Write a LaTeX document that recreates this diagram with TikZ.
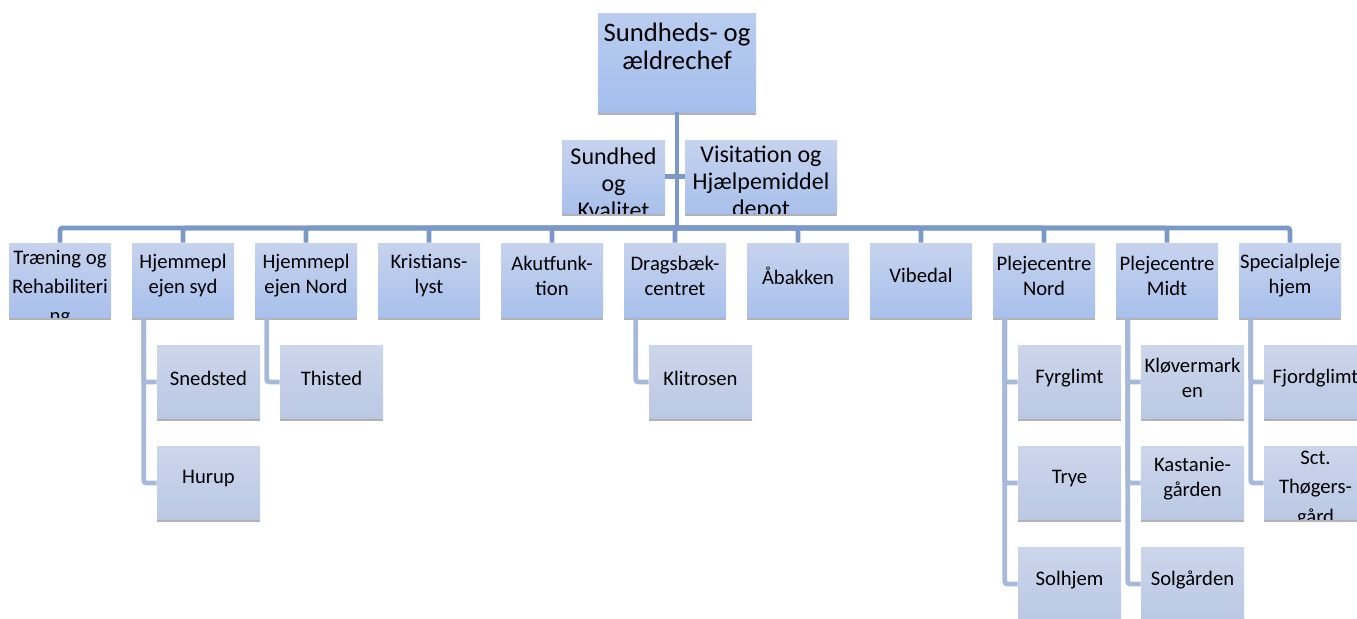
\documentclass[tikz,border=0pt]{standalone}
\usepackage{fontspec}
\setmainfont{Carlito}
\usetikzlibrary{shadows}

\definecolor{trunkblue}{RGB}{122,152,200}
\definecolor{branchblue}{RGB}{166,185,219}
\definecolor{headtop}{RGB}{186,205,240}
\definecolor{headbot}{RGB}{164,190,236}
\definecolor{lvltop}{RGB}{198,211,238}
\definecolor{lvlbot}{RGB}{168,192,236}
\definecolor{kidtop}{RGB}{204,214,235}
\definecolor{kidbot}{RGB}{186,200,228}

\tikzset{
    boxbase/.style={rectangle, inner sep=0pt,
        drop shadow={shadow xshift=0pt, shadow yshift=-2pt, opacity=0.3, fill=black}},
    headbox/.style={boxbase, minimum width=118.5pt, minimum height=74.25pt,
        top color=headtop, bottom color=headbot},
    headboxtxt/.style={inner sep=0pt, align=center, font=\fontsize{20}{20.5}\selectfont, yshift=12pt},
    asstbox/.style={boxbase, minimum height=54.75pt,
        top color=lvltop, bottom color=lvlbot},
    asstboxtxt/.style={inner sep=0pt, align=center, font=\fontsize{18}{20.5}\selectfont, yshift=-5pt},
    asstnarrow/.style={asstbox, minimum width=77.25pt},
    asstnarrowtxt/.style={asstboxtxt},
    asstwide/.style={asstbox, minimum width=114pt},
    asstwidetxt/.style={asstboxtxt},
    lvlbox/.style={boxbase, minimum width=76.5pt, minimum height=55.5pt,
        top color=lvltop, bottom color=lvlbot},
    lvlboxtxt/.style={inner sep=0pt, align=center, font=\fontsize{15.5}{18.75}\selectfont, yshift=3.4pt},
    kidbox/.style={boxbase, minimum width=77.25pt, minimum height=54.75pt,
        top color=kidtop, bottom color=kidbot},
    kidboxtxt/.style={inner sep=0pt, align=center, font=\fontsize{15.5}{18.75}\selectfont, yshift=3pt},
    overflow/.style={font=\fontsize{15.5}{22}\selectfont},
    trunk/.style={draw=trunkblue, line width=3.6pt, rounded corners=2pt},
    branch/.style={draw=branchblue, line width=3.6pt, rounded corners=2pt}
}

% box with its text clipped to the box
\newcommand{\orgnode}[5][]{%
    \node[#2] (#3) at (#4) {};
    \begin{scope}
        \clip (#3.south west) rectangle (#3.north east);
        \node[#2txt, #1] (#3-t) at (#3.center) {#5};
    \end{scope}%
}

\begin{document}
\begin{tikzpicture}[x=0.75pt, y=-0.75pt]
    \useasboundingbox (0,0) rectangle (1357,618);
    \clip (0,0) rectangle (1357,618);

    % top and staff
    \orgnode{headbox}{chef}{677,62.5}{Sundheds- og\\ældrechef}
    \orgnode{asstnarrow}{sundk}{613.5,176.5}{Sundhed\\og\\Kvalitet}
    \orgnode{asstwide}{visit}{761,176.5}{Visitation og\\Hjælpemiddel\\depot}
    \coordinate (hub) at (677,228);

    % first level
    \orgnode[overflow, yshift=-9.5pt]{lvlbox}{trn}{60,280}{Træning og\\Rehabiliteri\\ng}
    \orgnode{lvlbox}{hsyd}{183,280}{Hjemmepl\\ejen syd}
    \orgnode{lvlbox}{hnord}{306,280}{Hjemmepl\\ejen Nord}
    \orgnode{lvlbox}{krist}{429,280}{Kristians-\\lyst}
    \orgnode{lvlbox}{akut}{552,280}{Akutfunk-\\tion}
    \orgnode{lvlbox}{drag}{675,280}{Dragsbæk-\\centret}
    \orgnode{lvlbox}{aab}{798,280}{Åbakken}
    \orgnode{lvlbox}{vib}{921,280}{Vibedal}
    \orgnode{lvlbox}{pnord}{1044,280}{Plejecentre\\Nord}
    \orgnode{lvlbox}{pmidt}{1167,280}{Plejecentre\\Midt}
    \orgnode{lvlbox}{spec}{1290,280}{Specialpleje\\hjem}

    % second level
    \orgnode{kidbox}{sned}{208.5,382}{Snedsted}
    \orgnode{kidbox}{hurup}{208.5,483}{Hurup}
    \orgnode{kidbox}{thist}{331.5,382}{Thisted}
    \orgnode{kidbox}{klit}{700.5,382}{Klitrosen}
    \orgnode{kidbox}{fyr}{1069.5,382}{Fyrglimt}
    \orgnode{kidbox}{trye}{1069.5,483}{Trye}
    \orgnode{kidbox}{solhj}{1069.5,584}{Solhjem}
    \orgnode{kidbox}{klov}{1192.5,382}{Kløvermark\\en}
    \orgnode{kidbox}{kast}{1192.5,483}{Kastanie-\\gården}
    \orgnode{kidbox}{solg}{1192.5,584}{Solgården}
    \orgnode{kidbox}{fjord}{1315.5,382}{Fjordglimt}
    \orgnode[overflow, yshift=-7.5pt]{kidbox}{sct}{1315.5,483}{Sct.\\Thøgers-\\gård}

    % connectors
    \draw[trunk] (chef) -- (hub);
    \draw[trunk] (sundk.east) -- (visit.west);
    \draw[trunk] (hub) -| (trn.north);
    \draw[trunk] (hub) -| (hsyd.north);
    \draw[trunk] (hub) -| (hnord.north);
    \draw[trunk] (hub) -| (krist.north);
    \draw[trunk] (hub) -| (akut.north);
    \draw[trunk] (hub) -| (drag.north);
    \draw[trunk] (hub) -| (aab.north);
    \draw[trunk] (hub) -| (vib.north);
    \draw[trunk] (hub) -| (pnord.north);
    \draw[trunk] (hub) -| (pmidt.north);
    \draw[trunk] (hub) -| (spec.north);

    \draw[branch] ([xshift=9pt]hsyd.south west) |- (sned.west);
    \draw[branch] ([xshift=9pt]hsyd.south west) |- (hurup.west);
    \draw[branch] ([xshift=9pt]hnord.south west) |- (thist.west);
    \draw[branch] ([xshift=9pt]drag.south west) |- (klit.west);
    \draw[branch] ([xshift=9pt]pnord.south west) |- (fyr.west);
    \draw[branch] ([xshift=9pt]pnord.south west) |- (trye.west);
    \draw[branch] ([xshift=9pt]pnord.south west) |- (solhj.west);
    \draw[branch] ([xshift=9pt]pmidt.south west) |- (klov.west);
    \draw[branch] ([xshift=9pt]pmidt.south west) |- (kast.west);
    \draw[branch] ([xshift=9pt]pmidt.south west) |- (solg.west);
    \draw[branch] ([xshift=9pt]spec.south west) |- (fjord.west);
    \draw[branch] ([xshift=9pt]spec.south west) |- (sct.west);
\end{tikzpicture}
\end{document}
